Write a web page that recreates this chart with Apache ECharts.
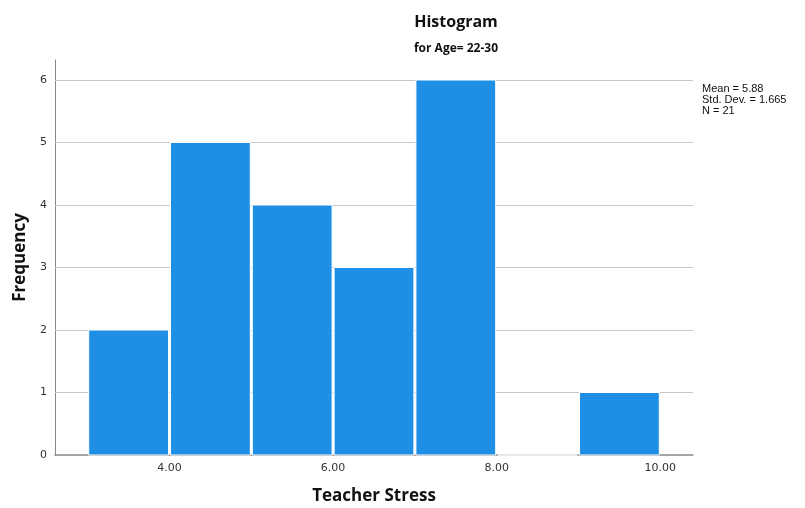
<!DOCTYPE html>
<html><head><meta charset="utf-8">
<script src="https://cdn.jsdelivr.net/npm/echarts@6/dist/echarts.min.js"></script>
<style>html,body{margin:0;padding:0;background:#fff}#c{width:805px;height:508px}</style>
</head><body><div id="c"></div>
<script>
const binStarts = [3, 4, 5, 6, 7, 8, 9];
const binWidth = 1;
const frequencies = [2, 5, 4, 3, 6, 0, 1];
const xTickValues = [4, 6, 8, 10];
const yTickValues = [0, 1, 2, 3, 4, 5, 6];
const statsLines = ['Mean = 5.88', 'Std. Dev. = 1.665', 'N = 21'];

const chart = echarts.init(document.getElementById('c'), null, {renderer: 'canvas'});
const barData = binStarts.map((s, i) => [s, s + binWidth, frequencies[i]]);

chart.setOption({
  animation: false,
  backgroundColor: '#fff',
  title: [
    {text: 'Histogram', left: 451, top: 9, textAlign: 'center',
     textStyle: {fontFamily: 'Open Sans', fontWeight: 'bold', fontSize: 16, color: '#111'}},
    {text: 'for Age= 22-30', left: 451, top: 38, textAlign: 'center',
     textStyle: {fontFamily: 'Open Sans', fontWeight: 'bold', fontSize: 12, color: '#111'}}
  ],
  graphic: [{
    type: 'text', left: 702, top: 83,
    style: {text: statsLines.join('\n'), font: '11px "Liberation Sans"', fill: '#111', lineHeight: 11}
  }],
  grid: {left: 55, right: 112, top: 60, bottom: 53, outerBoundsMode: 'none', containLabel: false},
  xAxis: {
    type: 'value', min: 2.6, max: 10.4,
    name: 'Teacher Stress', nameLocation: 'middle', nameGap: 33, nameMoveOverlap: false,
    nameTextStyle: {fontFamily: 'Open Sans', fontWeight: 'bold', fontSize: 17, color: '#111'},
    axisLine: {show: true, onZero: false, lineStyle: {color: '#888', width: 1.5}},
    axisTick: {show: false},
    splitLine: {show: false},
    axisLabel: {customValues: xTickValues, formatter: v => v.toFixed(2),
      fontFamily: 'DejaVu Sans', fontSize: 11, color: '#333', margin: 8}
  },
  yAxis: {
    type: 'value', min: 0, max: 6.32,
    name: 'Frequency', nameLocation: 'middle', nameGap: 26, nameRotate: 90, nameMoveOverlap: false,
    nameTextStyle: {fontFamily: 'Open Sans', fontWeight: 'bold', fontSize: 17, color: '#111'},
    axisLine: {show: true, lineStyle: {color: '#888', width: 1}},
    axisTick: {show: false},
    splitLine: {show: false},
    axisLabel: {customValues: yTickValues, fontFamily: 'DejaVu Sans', fontSize: 11, color: '#333', margin: 8}
  },
  series: [{
    type: 'custom',
    data: barData,
    encode: {x: [0, 1], y: 2},
    renderItem: function (params, api) {
      const p0 = api.coord([api.value(0), api.value(2)]);
      const p1 = api.coord([api.value(1), 0]);
      return {type: 'rect',
        shape: {x: p0[0] + 1, y: p0[1], width: p1[0] - p0[0] - 2, height: p1[1] - p0[1]},
        style: {fill: '#1f8fe6', stroke: '#fff', lineWidth: 1}, z2: 10};
    },
    z: 3,
    markLine: {
      silent: true, symbol: 'none', label: {show: false},
      lineStyle: {color: '#c8c8c8', width: 1.2, type: 'solid'},
      data: yTickValues.filter(v => v > 0).map(v => ({yAxis: v})),
      z: 1
    }
  }]
});
</script></body></html>
